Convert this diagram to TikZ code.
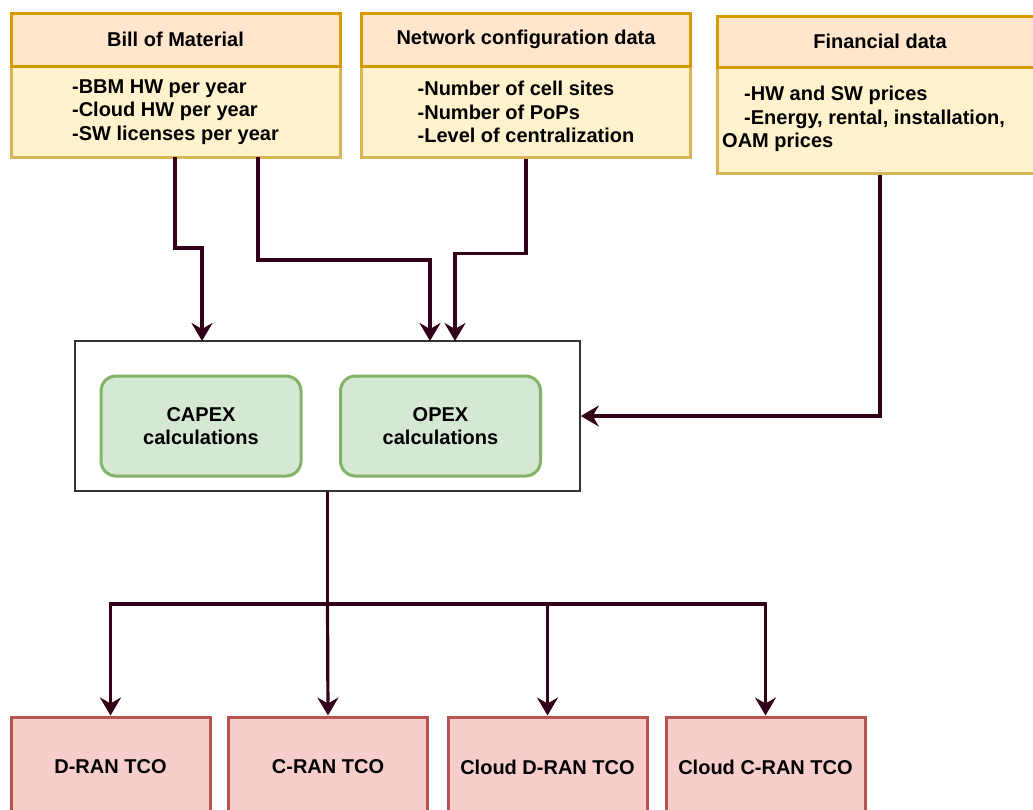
\documentclass[tikz,border=0pt]{standalone}
\usepackage{fontspec}
\setmainfont{Liberation Sans}
\usetikzlibrary{arrows.meta,calc}
\definecolor{hdrfill}{HTML}{FFE6CC}
\definecolor{hdrline}{HTML}{D79B00}
\definecolor{bodyfill}{HTML}{FFF2CC}
\definecolor{bodyline}{HTML}{D6B656}
\definecolor{grnfill}{HTML}{D5E8D4}
\definecolor{grnline}{HTML}{82B366}
\definecolor{redfill}{HTML}{F8CECC}
\definecolor{redline}{HTML}{B85450}
\definecolor{wire}{HTML}{33001A}
\tikzset{
  x=1pt, y=-1pt,
  every node/.style={font=\fontsize{20}{23.5}\selectfont\bfseries, inner sep=0pt},
  hdrbox/.style={draw=hdrline, fill=hdrfill, line width=3pt, minimum width=329pt, minimum height=53pt},
  bodybox/.style={draw=bodyline, fill=bodyfill, line width=3pt, minimum width=329pt},
  calcbox/.style={draw=grnline, fill=grnfill, line width=3pt, rounded corners=15pt, minimum width=200pt, minimum height=100pt, align=center},
  tcobox/.style={draw=redline, fill=redfill, line width=3pt, minimum width=199pt, minimum height=100pt},
  arr/.style={draw=wire, line width=3.2pt, -{Stealth[length=18pt,width=21pt,inset=6pt]}},
  wireline/.style={draw=wire, line width=3.2pt},
}
\begin{document}
\begin{tikzpicture}
\clip (0,0) rectangle (1033,809);
\fill[white] (0,0) rectangle (1033,809);

% input data blocks
\node[bodybox, minimum height=91pt] (bomb) at (175.5,111.5) {};
\node[hdrbox] (bomh) at (175.5,39.5) {Bill of Material};
\node[align=left] at (175.5,112) {-BBM HW per year\\-Cloud HW per year\\-SW licenses per year};

\node[bodybox, minimum height=91pt] (netb) at (526,111.5) {};
\node[hdrbox] (neth) at (526,39.5) {Network configuration data};
\node[align=left] at (526,112) {-Number of cell sites\\-Number of PoPs\\-Level of centralization};

\node[bodybox, minimum width=326pt, minimum height=106pt] (finb) at (880,120) {};
\node[hdrbox, minimum width=326pt, minimum height=51pt] (finh) at (880,41.5) {Financial data};
\node[align=left, anchor=west] at (722,119) {\hspace{22pt}-HW and SW prices\\\hspace{22pt}-Energy, rental, installation,\\OAM prices};

% calculation block
\node[draw=black!80, line width=1.6pt, fill=white, minimum width=505pt, minimum height=150pt] (calc) at (327.5,416) {};
\node[calcbox] (capex) at (201,426) {CAPEX\\calculations};
\node[calcbox] (opex) at (440.5,426) {OPEX\\calculations};

% results
\node[tcobox] (dran) at (110.5,767) {D-RAN TCO};
\node[tcobox] (cran) at (328,767) {C-RAN TCO};
\node[tcobox] (cdran) at (547.5,767) {Cloud D-RAN TCO};
\node[tcobox] (ccran) at (765.5,767) {Cloud C-RAN TCO};

% connector end points
\coordinate (s1) at (175,157);
\coordinate (s2) at (258,157);
\coordinate (in1) at (202,341);
\coordinate (in2) at (430,341);
\coordinate (in3) at (455,341);
\coordinate (split) at (327.5,604);

\draw[arr] (s1) -- (s1 |- 0,248) -| (in1);
\draw[arr] (s2) -- (s2 |- 0,260) -| (in2);
\draw[arr] (netb.south) -- ++(0,95) -| (in3);
\draw[arr] (finb.south) |- (calc.east);

\draw[wireline] (calc.south) -- (split);
\draw[arr] (split) -| (dran.north);
\draw[arr] (split) -- (cran.north);
\draw[arr] (split) -| (cdran.north);
\draw[arr] (split) -| (ccran.north);
\end{tikzpicture}
\end{document}
